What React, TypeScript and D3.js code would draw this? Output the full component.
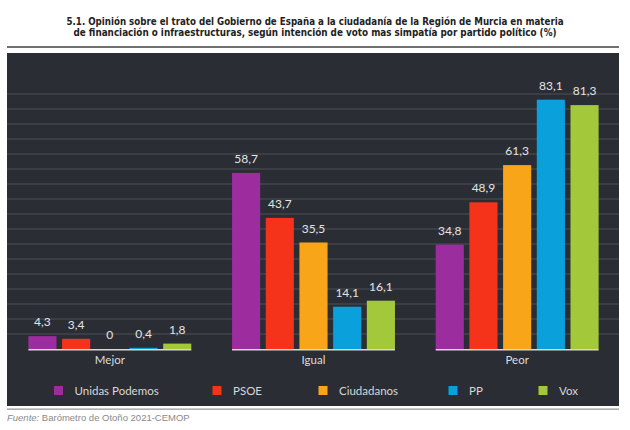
import React from "react";
import * as d3 from "d3";

// ---- data ----
const categories = ["Mejor", "Igual", "Peor"];
const parties = ["Unidas Podemos", "PSOE", "Ciudadanos", "PP", "Vox"];
const unidasPodemos = [4.3, 58.7, 34.8];
const psoe = [3.4, 43.7, 48.9];
const ciudadanos = [0, 35.5, 61.3];
const pp = [0.4, 14.1, 83.1];
const vox = [1.8, 16.1, 81.3];
const seriesValues = [unidasPodemos, psoe, ciudadanos, pp, vox];
const gridTicks = [5, 10, 15, 20, 25, 30, 35, 40, 45, 50, 55, 60, 65, 70, 75, 80, 85];
const titleLines = [
  "5.1. Opinión sobre el trato del Gobierno de España a la ciudadanía de la Región de Murcia en materia",
  "de financiación o infraestructuras, según intención de voto mas simpatía por partido político (%)",
];
const sourceLabel = "Fuente:";
const sourceText = " Barómetro de Otoño 2021-CEMOP";

// ---- styles / layout ----
const colors = ["#9b2d9e", "#f5321a", "#f9a51a", "#0aa0dc", "#a3c93a"];
const legendX = [54, 212.5, 318.5, 448.5, 538.5];
const W = 630;
const H = 430;
const panel = { x: 7, y: 53, w: 612, h: 353 };
const labelFont = "Lato, 'Open Sans', sans-serif";

export default function App() {
  const x0 = d3.scaleBand<string>().domain(categories).range([8, 619]).paddingInner(0.2).paddingOuter(0.1);
  const x1 = d3.scaleBand<string>().domain(parties).range([0, x0.bandwidth()]).paddingInner(0.165).paddingOuter(0);
  const y = d3.scaleLinear().domain([0, 100]).range([349, 49]);

  return (
    <svg width={W} height={H} style={{ position: "absolute", left: 0, top: 0, background: "#ffffff" }}>
      {/* title */}
      {titleLines.map((t, i) => (
        <text
          key={i}
          x={315}
          y={24.5 + i * 11}
          textAnchor="middle"
          fontFamily="'Liberation Sans Narrow', 'DejaVu Sans Condensed', 'Arial Narrow', sans-serif"
          fontWeight="bold"
          fontSize={10.5}
          fill="#222"
          textLength={i === 0 ? 497 : 483}
          lengthAdjust="spacingAndGlyphs"
        >
          {t}
        </text>
      ))}
      <rect x={7} y={46} width={612} height={2} fill="#707070" />

      {/* panel */}
      <rect x={panel.x} y={panel.y} width={panel.w} height={panel.h} fill="#2a2d34" />

      {/* gridlines */}
      {gridTicks.map((t) => (
        <line key={t} x1={panel.x} x2={panel.x + panel.w} y1={y(t)} y2={y(t)} stroke="#4d5057" strokeWidth={1.2} />
      ))}

      {/* bars */}
      {categories.map((c, ci) => (
        <g key={c} transform={`translate(${x0(c)},0)`}>
          {parties.map((p, pi) => {
            const v = seriesValues[pi][ci];
            return (
              <g key={p}>
                <rect x={x1(p)} y={y(v)} width={x1.bandwidth()} height={y(0) - y(v)} fill={colors[pi]} />
                <text
                  x={(x1(p) as number) + x1.bandwidth() / 2}
                  y={y(v) - 10}
                  textAnchor="middle"
                  fontFamily={labelFont}
                  fontSize={12}
                  fill="#e4e4e4"
                >
                  {String(v).replace(".", ",")}
                </text>
              </g>
            );
          })}
          <line x1={0} x2={x0.bandwidth()} y1={y(0) + 0.75} y2={y(0) + 0.75} stroke="#d8d8d8" strokeWidth={1.5} />
          <text x={x0.bandwidth() / 2} y={363.5} textAnchor="middle" fontFamily={labelFont} fontSize={11.5} fill="#dcdcdc">
            {c}
          </text>
        </g>
      ))}

      {/* legend */}
      {parties.map((p, i) => (
        <g key={p} transform={`translate(${legendX[i]},386)`}>
          <rect x={0} y={0} width={9} height={9} fill={colors[i]} />
          <text x={20.5} y={9} fontFamily={labelFont} fontSize={11.5} fill="#d8d8d8">
            {p}
          </text>
        </g>
      ))}

      {/* bottom rule and source */}
      <rect x={7} y={408.5} width={612} height={1.3} fill="#9a9a9a" />
      <text x={7} y={421} fontFamily="'Liberation Sans', Arial, sans-serif" fontSize={9.5} fill="#8a8a8a">
        <tspan fontStyle="italic">{sourceLabel}</tspan>
        <tspan>{sourceText}</tspan>
      </text>
    </svg>
  );
}
